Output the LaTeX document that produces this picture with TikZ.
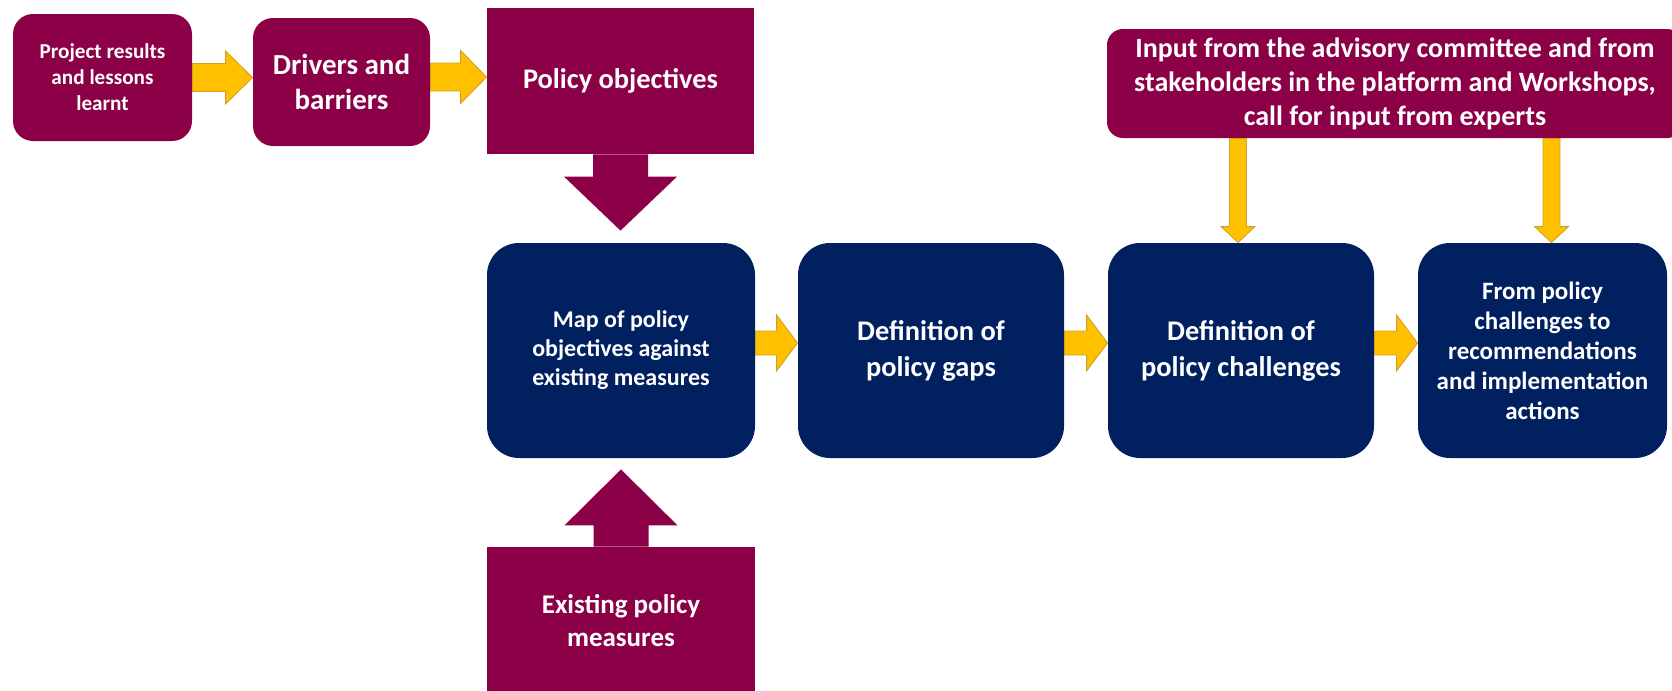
\documentclass[tikz,border=0pt]{standalone}
\usepackage{fontspec}
\setmainfont{Carlito}
\usetikzlibrary{calc}

\definecolor{plum}{RGB}{139,0,70}
\definecolor{navy}{RGB}{0,32,96}
\definecolor{gold}{RGB}{255,192,0}
\definecolor{goldedge}{RGB}{205,160,40}

% block arrow, straight right: from, to, shaft half, head half, head length
\newcommand{\rarrow}[6][yarrow]{%
\draw[#1] let \p1=(#2), \p2=(#3) in
(\x1,\y1+#4) -- (\x2-#6,\y1+#4) -- (\x2-#6,\y1+#5) -- (\x2,\y1)
-- (\x2-#6,\y1-#5) -- (\x2-#6,\y1-#4) -- (\x1,\y1-#4) -- cycle;}
% block arrow, straight up or down (negative head length = up)
\newcommand{\varrow}[6][yarrow]{%
\draw[#1] let \p1=(#2), \p2=(#3) in
(\x1-#4,\y1) -- (\x1-#4,\y2+#6) -- (\x1-#5,\y2+#6) -- (\x1,\y2)
-- (\x1+#5,\y2+#6) -- (\x1+#4,\y2+#6) -- (\x1+#4,\y1) -- cycle;}

\begin{document}
\begin{tikzpicture}[x=0.5pt, y=-0.5pt,
                    box/.style={
                    text=white,
                    text centered,
                    align=center,
                    inner sep=0pt,
                    anchor=center,
                    },
                    redbox/.style={box, fill=plum},
                    bluebox/.style={box, fill=navy, rounded corners=16pt,
                    minimum width=134pt, minimum height=107.5pt,
                    font=\bfseries\fontsize{12}{14.5}\selectfont},
                    yarrow/.style={fill=gold, draw=goldedge, line width=0.4pt},
                    rarrowbig/.style={fill=plum, draw=none},
                    ]

\useasboundingbox (0,0) rectangle (1672,691);

\draw
(102.5,77.5) node[redbox, rounded corners=10pt, minimum width=89.5pt, minimum height=63.5pt,
  font=\bfseries\fontsize{10.6}{13}\selectfont] (res) {Project results\\and lessons\\learnt}
(341.5,82) node[redbox, rounded corners=10pt, minimum width=88.5pt, minimum height=64pt,
  font=\bfseries\fontsize{14.5}{17.5}\selectfont] (drv) {Drivers and\\barriers}
(620.5,81) node[redbox, minimum width=133.5pt, minimum height=73pt,
  font=\bfseries\fontsize{14.2}{17}\selectfont] (obj) {Policy objectives}
(1395,83.5) node[redbox, rounded corners=8pt, minimum width=288pt, minimum height=54.5pt,
  font=\bfseries\fontsize{14}{17}\selectfont] (inp) {Input from the advisory committee and from\\stakeholders in the platform and Workshops,\\call for input from experts}
(621,350.5) node[bluebox] (map) {Map of policy\\objectives against\\existing measures}
(931,350.5) node[bluebox, minimum width=133pt, font=\bfseries\fontsize{14.2}{18}\selectfont] (gaps) {Definition of\\policy gaps}
(1241,350.5) node[bluebox, minimum width=133pt, font=\bfseries\fontsize{14.2}{18}\selectfont] (chal) {Definition of\\policy challenges}
(1542.5,350.5) node[bluebox, minimum width=124.5pt, font=\bfseries\fontsize{12.5}{15}\selectfont] (rec) {From policy\\challenges to\\recommendations\\and implementation\\actions}
(621,621) node[redbox, minimum width=134pt, minimum height=74pt,
  font=\bfseries\fontsize{13.5}{16.5}\selectfont] (ex) {Existing policy\\measures}
([xshift=4.5pt]rec.north) coordinate (recin)
([xshift=-1.5pt]chal.north) coordinate (chalin)
;

% top row
\rarrow{res.east}{drv.west}{7pt}{13.25pt}{13.5pt}
\rarrow{[yshift=2.5pt]drv.east}{obj.west}{7pt}{13.25pt}{13pt}

% into and out of the map
\varrow[rarrowbig]{obj.south}{[yshift=6pt]map.north}{13.75pt}{28.25pt}{27pt}
\varrow[rarrowbig]{ex.north}{[yshift=-5.5pt]map.south}{13.75pt}{28.25pt}{-28pt}

% main row
\rarrow{[yshift=3.75pt]map.east}{gaps.west}{6pt}{14pt}{10.5pt}
\rarrow{[yshift=3.75pt]gaps.east}{chal.west}{6pt}{14pt}{10.5pt}
\rarrow{[yshift=3.75pt]chal.east}{rec.west}{6pt}{14pt}{10.5pt}

% input from stakeholders
\varrow{inp.south -| chalin}{chalin}{4.25pt}{8.5pt}{8pt}
\varrow{inp.south -| recin}{recin}{4.25pt}{8.5pt}{8pt}

\end{tikzpicture}
\end{document}
